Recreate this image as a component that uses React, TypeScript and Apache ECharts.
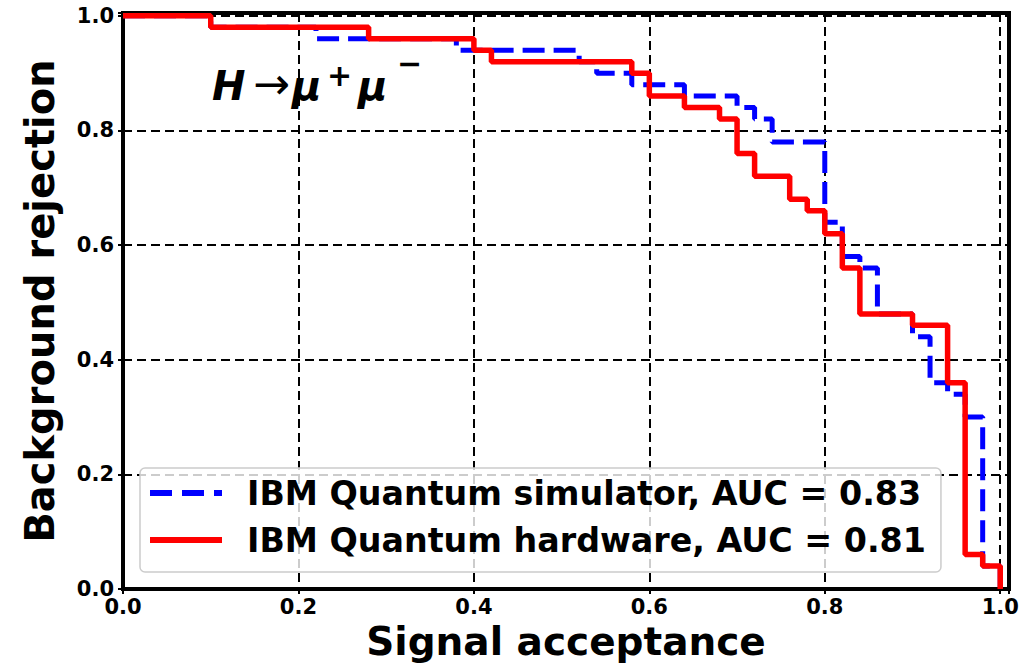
import React, { useEffect, useRef } from "react";
import * as echarts from "echarts";

// Signal acceptance (x) where each horizontal step starts, and background rejection (y) of that step
const simulatorX = [0, 0.1, 0.22, 0.38, 0.52, 0.54, 0.58, 0.64, 0.7, 0.72, 0.74, 0.8, 0.82, 0.84, 0.86, 0.9, 0.92, 0.94, 0.96, 0.98, 1.0];
const simulatorY = [1.0, 0.98, 0.96, 0.94, 0.92, 0.9, 0.88, 0.86, 0.84, 0.82, 0.78, 0.64, 0.58, 0.56, 0.48, 0.44, 0.36, 0.34, 0.3, 0.04, 0.0];

const hardwareX = [0, 0.1, 0.28, 0.4, 0.42, 0.58, 0.6, 0.64, 0.68, 0.7, 0.72, 0.76, 0.78, 0.8, 0.82, 0.84, 0.9, 0.94, 0.96, 0.98, 1.0];
const hardwareY = [1.0, 0.98, 0.96, 0.94, 0.92, 0.9, 0.86, 0.84, 0.82, 0.76, 0.72, 0.68, 0.66, 0.62, 0.56, 0.48, 0.46, 0.36, 0.06, 0.04, 0.0];

const seriesNames = [
  "IBM Quantum simulator, AUC = 0.83",
  "IBM Quantum hardware, AUC = 0.81",
];
const seriesColors = ["#0000ff", "#ff0000"];
const xTickStep = 0.2;
const yTickStep = 0.2;

const FONT = "'DejaVu Sans', 'Noto Sans', sans-serif";

const tickFormatter = (step: number) => (v: number) => {
  const r = v / step;
  return Math.abs(r - Math.round(r)) < 1e-6 ? v.toFixed(1) : "";
};

export default function App() {
  const ref = useRef<HTMLDivElement>(null);
  useEffect(() => {
    if (!ref.current) return;
    const chart = echarts.init(ref.current, undefined, { renderer: "svg" });
    const gridLine = { show: true, lineStyle: { color: "#000", width: 2, type: [9, 5] as any } };
    const titleBase = { fontFamily: FONT, fontWeight: "bold" as any, fill: "#000" };
    chart.setOption({
      animation: false,
      backgroundColor: "#fff",
      grid: {
        left: 123,
        right: 23,
        top: 13,
        bottom: 80,
        show: true,
        borderColor: "#000",
        borderWidth: 4,
        containLabel: false,
      },
      xAxis: {
        type: "value",
        min: 0,
        max: 1.01,
        interval: xTickStep,
        name: "Signal acceptance",
        nameLocation: "middle",
        nameGap: 29,
        nameTextStyle: { fontFamily: FONT, fontWeight: "bold", fontSize: 39, color: "#000" },
        axisLine: { show: true, lineStyle: { color: "#000", width: 4 } },
        axisTick: { show: true, inside: false, length: 5, lineStyle: { color: "#000", width: 2 } },
        axisLabel: {
          fontFamily: FONT,
          fontWeight: "bold",
          fontSize: 21,
          color: "#000",
          margin: 7,
          formatter: tickFormatter(xTickStep),
        },
        splitLine: gridLine,
      },
      yAxis: {
        type: "value",
        min: 0,
        max: 1.005,
        interval: yTickStep,
        name: "Background rejection",
        nameLocation: "middle",
        nameGap: 63,
        nameTextStyle: { fontFamily: FONT, fontWeight: "bold", fontSize: 40, color: "#000" },
        axisLine: { show: true, lineStyle: { color: "#000", width: 4 } },
        axisTick: { show: true, inside: false, length: 5, lineStyle: { color: "#000", width: 2 } },
        axisLabel: {
          fontFamily: FONT,
          fontWeight: "bold",
          fontSize: 21,
          color: "#000",
          margin: 9,
          formatter: tickFormatter(yTickStep),
        },
        splitLine: gridLine,
      },
      legend: {
        orient: "vertical",
        left: 140,
        top: 468,
        padding: [5, 15, 12, 10],
        itemGap: 7,
        itemWidth: 72,
        itemHeight: 6,
        symbolKeepAspect: false,
        backgroundColor: "rgba(255,255,255,0.8)",
        borderColor: "#cccccc",
        borderWidth: 1.5,
        borderRadius: 5,
        textStyle: {
          fontFamily: FONT,
          fontWeight: "bold",
          fontSize: 33.3,
          color: "#000",
          lineHeight: 40,
          padding: [0, 0, 0, 20],
        },
        data: [
          {
            name: seriesNames[0],
            icon: "path://M0,0h22v6h-22z M32,0h22v6h-22z M64,0h8v6h-8z",
            itemStyle: { color: seriesColors[0] },
          },
          {
            name: seriesNames[1],
            icon: "path://M0,0h72v6h-72z",
            itemStyle: { color: seriesColors[1] },
          },
        ],
      },
      graphic: [
        { type: "text", left: 212, top: 66, style: { ...titleBase, text: "H", fontSize: 40, fontStyle: "italic" } },
        { type: "text", left: 253, top: 61, style: { ...titleBase, text: "→", fontSize: 44, fontWeight: "normal" } },
        { type: "text", left: 292, top: 66, style: { ...titleBase, text: "μ", fontSize: 40, fontStyle: "italic" } },
        { type: "text", left: 327, top: 60, style: { ...titleBase, text: "+", fontSize: 30 } },
        { type: "text", left: 358, top: 66, style: { ...titleBase, text: "μ", fontSize: 40, fontStyle: "italic" } },
        { type: "text", left: 397, top: 48, style: { ...titleBase, text: "−", fontSize: 30 } },
      ],
      series: [
        {
          name: seriesNames[0],
          type: "line",
          step: "end",
          symbol: "none",
          z: 2,
          lineStyle: { color: seriesColors[0], width: 5, type: [22, 9] as any },
          itemStyle: { color: seriesColors[0] },
          data: simulatorX.map((x, i) => [x, simulatorY[i]]),
        },
        {
          name: seriesNames[1],
          type: "line",
          step: "end",
          symbol: "none",
          z: 3,
          lineStyle: { color: seriesColors[1], width: 5.5, type: "solid" },
          itemStyle: { color: seriesColors[1] },
          data: hardwareX.map((x, i) => [x, hardwareY[i]]),
        },
      ],
    });
    return () => chart.dispose();
  }, []);
  return <div ref={ref} style={{ width: 1032, height: 669, position: "absolute", left: 0, top: 0 }} />;
}
